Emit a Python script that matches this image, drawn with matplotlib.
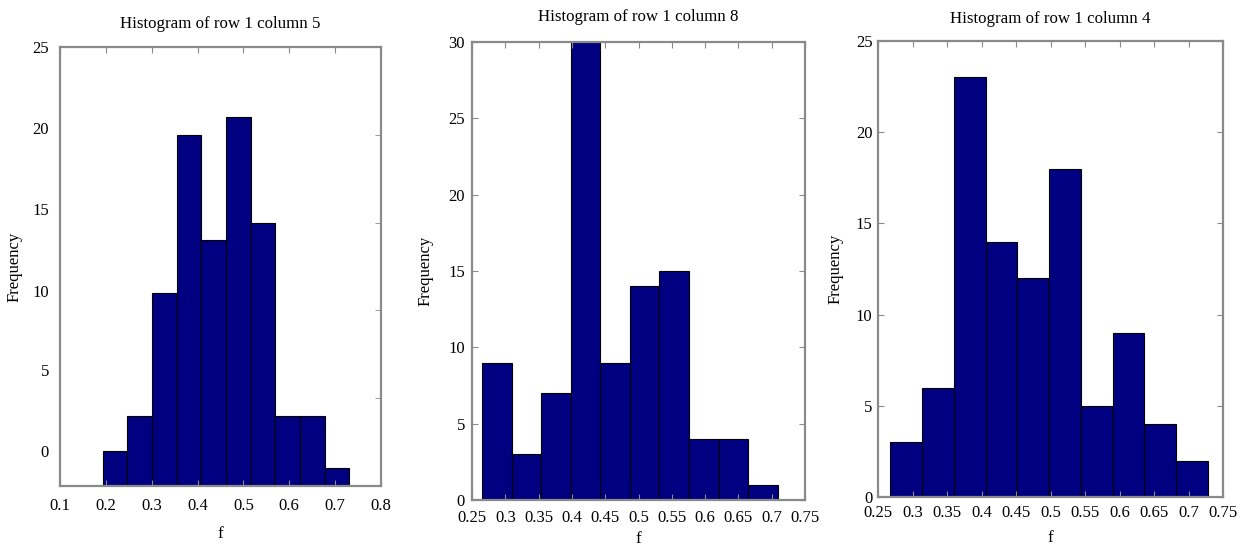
import numpy as np
import matplotlib
matplotlib.use("Agg")
import matplotlib.pyplot as plt

plt.rcParams["font.family"] = ["Liberation Serif", "DejaVu Serif"]

# counts per bin (96 samples each)
counts_c5 = [2, 4, 11, 20, 14, 21, 15, 4, 4, 1]
counts_c8 = [9, 3, 7, 30, 9, 14, 15, 4, 4, 1]
counts_c4 = [3, 6, 23, 14, 12, 18, 5, 9, 4, 2]

# range covered by the bins (min / max of the data)
range_c5 = (0.193, 0.731)
range_c8 = (0.265, 0.709)
range_c4 = (0.268, 0.728)

xticks_c5 = [0.1, 0.2, 0.3, 0.4, 0.5, 0.6, 0.7, 0.8]
xticks_c8 = [0.25, 0.3, 0.35, 0.4, 0.45, 0.5, 0.55, 0.6, 0.65, 0.7, 0.75]
xticks_c4 = xticks_c8

yticks_c5 = [0, 5, 10, 15, 20, 25]
yticks_c8 = [0, 5, 10, 15, 20, 25, 30]
yticks_c4 = [0, 5, 10, 15, 20, 25]
# in the left panel the tick labels sit off their ticks
ylabel_pos_c5 = [2.0, 6.6, 11.1, 15.8, 20.4, 25.0]

titles = ["Histogram of row 1 column 5", "Histogram of row 1 column 8",
          "Histogram of row 1 column 4"]

W, H = 1246, 548
fig = plt.figure(figsize=(W / 100, H / 100), dpi=100)

def box(l, t, r, b):
  return [l / W, 1 - b / H, (r - l) / W, (b - t) / H]

panels = [
    dict(rect=box(60, 47, 381, 486), counts=counts_c5, rng=range_c5, xt=xticks_c5,
         yt=yticks_c5, xlim=(0.1, 0.8), ylim=(0, 25), xpad=9, ypad=6, tpad=14,
         ylab=(-0.118, 0.5), xlab=(0.5, -0.09)),
    dict(rect=box(472, 42, 805, 500), counts=counts_c8, rng=range_c8, xt=xticks_c8,
         yt=yticks_c8, xlim=(0.25, 0.75), ylim=(0, 30), xpad=7, ypad=5, tpad=15,
         ylab=(-0.117, 0.5), xlab=(0.5, -0.068)),
    dict(rect=box(878, 41, 1223, 497), counts=counts_c4, rng=range_c4, xt=xticks_c4,
         yt=yticks_c4, xlim=(0.25, 0.75), ylim=(0, 25), xpad=6, ypad=4, tpad=13,
         ylab=(-0.1, 0.5), xlab=(0.5, -0.072)),
]

for i, p in enumerate(panels):
  ax = fig.add_axes(p["rect"])
  edges = np.linspace(p["rng"][0], p["rng"][1], len(p["counts"]) + 1)
  ax.bar(edges[:-1], p["counts"], width=np.diff(edges), align="edge",
         color="#000080", edgecolor="black", linewidth=0.8)
  ax.set_xlim(*p["xlim"])
  ax.set_ylim(*p["ylim"])
  ax.set_xticks(p["xt"])
  ax.set_xticklabels(["{:g}".format(v) for v in p["xt"]])
  for s in ax.spines.values():
    s.set_color("#8a8a8a")
    s.set_linewidth(1.6)
  ax.tick_params(axis="x", direction="in", top=True, bottom=True, length=4,
                 color="#8a8a8a", labelsize=12, pad=p["xpad"])
  if i == 0:
    ax.set_yticks(ylabel_pos_c5)
    ax.set_yticklabels([str(v) for v in p["yt"]])
    ax.tick_params(axis="y", which="major", length=0, labelsize=12, pad=p["ypad"] + 2)
    ax.set_yticks(p["yt"], minor=True)
    ax.tick_params(axis="y", which="minor", direction="in", left=False, right=True,
                   length=4, color="#8a8a8a")
  else:
    ax.set_yticks(p["yt"])
    ax.tick_params(axis="y", direction="in", left=True, right=True, length=4,
                   color="#8a8a8a", labelsize=12, pad=p["ypad"])
  ax.set_title(titles[i], fontsize=12.2, pad=p["tpad"])
  ax.set_ylabel("Frequency", fontsize=12)
  ax.set_xlabel("f", fontsize=12.5)
  ax.yaxis.set_label_coords(*p["ylab"])
  ax.xaxis.set_label_coords(*p["xlab"])

fig.savefig("out.png", dpi=100)
